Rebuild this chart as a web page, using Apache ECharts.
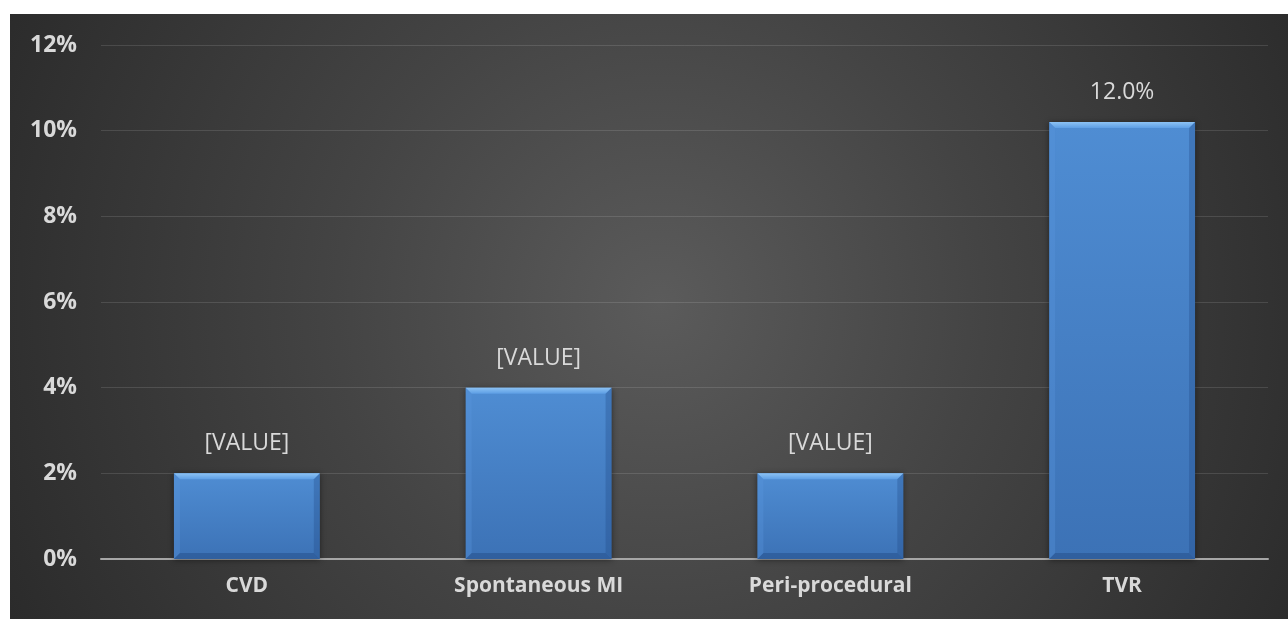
<!DOCTYPE html>
<html>
<head>
<meta charset="utf-8">
<script src="https://cdn.jsdelivr.net/npm/echarts@6/dist/echarts.min.js"></script>
<style>
	html, body { margin: 0; padding: 0; background: #fff; }
	#bg {
		position: absolute; left: 10px; top: 14px; width: 1278px; height: 605px;
		background: radial-gradient(circle 720px at 650px 290px, #5b5b5b 0%, #444 45%, #2b2b2b 100%);
	}
	#chart { position: absolute; left: 0; top: 0; width: 1288px; height: 619px; }
</style>
</head>
<body>
<div id="bg"></div>
<div id="chart"></div>
<script>
var categories = ['CVD', 'Spontaneous MI', 'Peri-procedural', 'TVR'];
var values = [2.0, 4.0, 2.0, 10.2];
var barLabels = ['[VALUE]', '[VALUE]', '[VALUE]', '12.0%'];
var yTicks = [0, 2, 4, 6, 8, 10, 12];

var labelFont = '"Open Sans", "Lato", sans-serif';
var textColor = '#d9d9d9';

function renderBar(params, api) {
	var idx = api.value(0);
	var top = api.coord([idx, api.value(1)]);
	var base = api.coord([idx, 0]);
	var w = api.size([1, 0])[0] * 0.5;
	var x0 = top[0] - w / 2, x1 = top[0] + w / 2;
	var y0 = top[1], y1 = base[1];
	var b = 6;
	return {
		type: 'group',
		children: [
			{
				type: 'rect',
				shape: { x: x0, y: y0, width: w, height: y1 - y0 },
				style: {
					fill: new echarts.graphic.LinearGradient(0, 0, 0, 1, [
						{ offset: 0, color: '#4f8dd3' },
						{ offset: 1, color: '#3c72b6' }
					]),
					shadowBlur: 6, shadowColor: 'rgba(0,0,0,0.45)', shadowOffsetY: 1
				}
			},
			// top bevel
			{
				type: 'polygon',
				shape: { points: [[x0, y0], [x1, y0], [x1 - b, y0 + b], [x0 + b, y0 + b]] },
				style: {
					fill: new echarts.graphic.LinearGradient(0, 0, 0, 1, [
						{ offset: 0, color: '#8cc2f4' },
						{ offset: 1, color: '#5d9ee4' }
					])
				}
			},
			// left bevel
			{
				type: 'polygon',
				shape: { points: [[x0, y0], [x0 + b, y0 + b], [x0 + b, y1 - b], [x0, y1]] },
				style: { fill: 'rgba(90,150,220,0.35)' }
			},
			// right bevel
			{
				type: 'polygon',
				shape: { points: [[x1, y0], [x1 - b, y0 + b], [x1 - b, y1 - b], [x1, y1]] },
				style: { fill: 'rgba(30,70,130,0.3)' }
			},
			// bottom bevel
			{
				type: 'polygon',
				shape: { points: [[x0, y1], [x0 + b, y1 - b], [x1 - b, y1 - b], [x1, y1]] },
				style: { fill: 'rgba(25,60,115,0.35)' }
			},
			{
				type: 'text',
				style: {
					text: barLabels[idx],
					x: top[0], y: y0 - 18,
					align: 'center', verticalAlign: 'bottom',
					fill: textColor, font: '23px ' + labelFont
				}
			}
		]
	};
}

var chart = echarts.init(document.getElementById('chart'));
chart.setOption({
	backgroundColor: 'transparent',
	animation: false,
	grid: { left: 101, right: 20, top: 45, bottom: 60, containLabel: false },
	xAxis: {
		type: 'category',
		data: categories,
		axisTick: { show: false },
		axisLine: { lineStyle: { color: '#a6a6a6', width: 2 } },
		axisLabel: {
			color: textColor, fontSize: 21, fontWeight: 'bold',
			fontFamily: labelFont, margin: 17
		}
	},
	yAxis: {
		type: 'value',
		min: yTicks[0], max: yTicks[yTicks.length - 1], interval: 2,
		axisLine: { show: false },
		axisTick: { show: false },
		splitLine: { lineStyle: { color: 'rgba(255,255,255,0.12)', width: 1 } },
		axisLabel: {
			color: textColor, fontSize: 23, fontWeight: 'bold',
			fontFamily: labelFont, margin: 24,
			formatter: function (v) { return v + '%'; }
		}
	},
	series: [{
		type: 'custom',
		renderItem: renderBar,
		encode: { x: 0, y: 1 },
		data: values.map(function (v, i) { return [i, v]; })
	}]
});
</script>
</body>
</html>
